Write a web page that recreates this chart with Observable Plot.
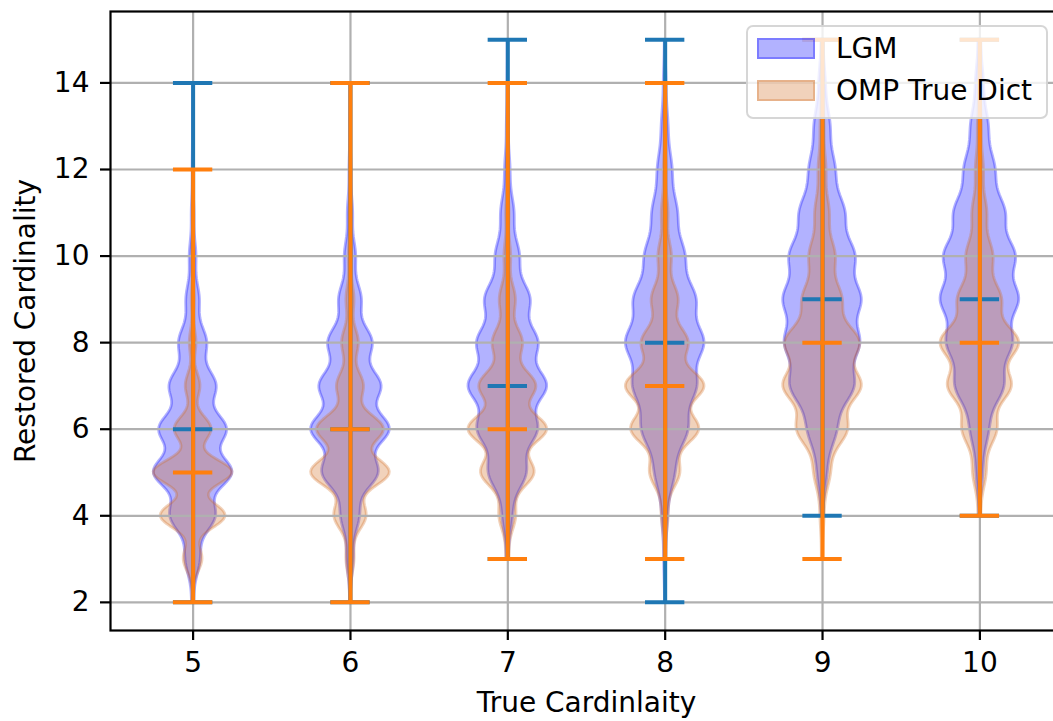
<!DOCTYPE html>
<html><head><meta charset="utf-8">
<script src="https://cdn.jsdelivr.net/npm/d3@7"></script>
<script src="https://cdn.jsdelivr.net/npm/@observablehq/plot@0.6"></script>
<style>
html,body{margin:0;padding:0;background:#fff;overflow:hidden;}
#wrap{position:relative;width:1053px;height:721px;}
.legend{position:absolute;left:746px;top:25px;width:302px;height:94px;box-sizing:border-box;background:rgba(255,255,255,0.8);border:2px solid rgba(204,204,204,0.8);border-radius:7px;font-family:"DejaVu Sans";font-size:28px;color:#000;}
.row{position:absolute;left:9px;height:21px;line-height:21px;display:flex;align-items:center;white-space:nowrap;}
.sw{width:58px;height:21px;box-sizing:border-box;margin-right:21px;}
</style></head>
<body><div id="wrap"></div>
<script>
// ---- data ----
const positions = [5, 6, 7, 8, 9, 10];
const yTicks = [2, 4, 6, 8, 10, 12, 14];
const seriesNames = ["LGM", "OMP True Dict"];

const lgmMin    = [2, 2, 3, 2, 4, 4];
const lgmMedian = [6, 6, 7, 8, 9, 9];
const lgmMax    = [14, 14, 15, 15, 15, 15];

const ompMin    = [2, 2, 3, 3, 3, 4];
const ompMedian = [5, 6, 6, 7, 8, 8];
const ompMax    = [12, 14, 14, 14, 15, 15];

// relative frequency of each integer value, from min to max
const lgmCounts = [
  [3, 22, 68, 118, 101, 70, 42, 20, 10, 4, 1.5, 0.5, 0.3],
  [1, 10, 28, 85, 119, 93, 67, 34, 17, 8, 3, 1, 0.5],
  [3, 15, 57, 90, 118, 91, 68, 36, 20, 8, 3, 1, 0.5],
  [0.5, 3, 8, 30, 70, 95, 118, 93, 60, 38, 22, 10, 4, 1],
  [2, 15, 45, 100, 115, 120, 101, 70, 40, 25, 10, 3],
  [1, 10, 28, 75, 100, 119, 109, 78, 47, 27, 12, 4]
];
const ompCounts = [
  [3, 28, 97, 118, 55, 22, 10, 4, 2, 1, 0.5],
  [1, 12, 48, 118, 100, 40, 25, 12, 5, 2, 1, 0.5, 0.3],
  [5, 25, 80, 118, 85, 45, 24, 10, 5, 2, 1, 0.5],
  [3, 10, 45, 102, 118, 70, 40, 20, 10, 4, 2, 1],
  [2, 6, 25, 78, 120, 115, 60, 40, 22, 12, 6, 3, 1],
  [4, 20, 52, 95, 118, 65, 40, 22, 12, 6, 3, 1]
];

// ---- violin construction (gaussian KDE, Scott-like bandwidth) ----
const bwFactor = 0.21;
const halfWidth = 0.25;
const N = 200;

function kde(counts, min, max) {
  const vals = counts.map((c, i) => min + i);
  const total = d3.sum(counts);
  const mean = d3.sum(counts, (c, i) => c * vals[i]) / total;
  const sd = Math.sqrt(d3.sum(counts, (c, i) => c * (vals[i] - mean) ** 2) / total);
  const bw = bwFactor * sd;
  const ys = d3.range(N).map(i => min + (max - min) * i / (N - 1));
  const dens = ys.map(y => d3.sum(counts, (c, i) => c * Math.exp(-0.5 * ((y - vals[i]) / bw) ** 2)));
  const m = d3.max(dens);
  return ys.map((y, i) => ({y, w: halfWidth * dens[i] / m}));
}
function bodies(name, counts, mins, maxs) {
  return positions.flatMap((p, k) =>
    kde(counts[k], mins[k], maxs[k]).map(d => ({series: name, key: name + p, y: d.y, x1: p - d.w, x2: p + d.w})));
}
function stats(name, mins, meds, maxs) {
  return positions.map((p, k) => ({series: name, pos: p, min: mins[k], med: meds[k], max: maxs[k]}));
}
function bars(st) {
  return st.flatMap(d => [d.max, d.min, d.med].map(v => ({y: v, x1: d.pos - 0.125, x2: d.pos + 0.125})));
}

const lgmBody = bodies(seriesNames[0], lgmCounts, lgmMin, lgmMax);
const ompBody = bodies(seriesNames[1], ompCounts, ompMin, ompMax);
const lgmStats = stats(seriesNames[0], lgmMin, lgmMedian, lgmMax);
const ompStats = stats(seriesNames[1], ompMin, ompMedian, ompMax);

const lgmFill = "blue", ompFill = "#D2691E";
const lgmLine = "#1f77b4", ompLine = "#ff7f0e";
const lw = 4;

const chart = Plot.plot({
  width: 1053, height: 721,
  marginLeft: 110, marginRight: -9, marginTop: 11, marginBottom: 91,
  style: {fontFamily: "'DejaVu Sans'", fontSize: "28px", background: "white", color: "black"},
  x: {domain: [4.475, 10.525]},
  y: {domain: [1.35, 15.65]},
  marks: [
    Plot.areaX(lgmBody, {y: "y", x1: "x1", x2: "x2", z: "key", fill: lgmFill, fillOpacity: 0.3, stroke: lgmFill, strokeOpacity: 0.3, strokeWidth: 2.8}),
    Plot.areaX(ompBody, {y: "y", x1: "x1", x2: "x2", z: "key", fill: ompFill, fillOpacity: 0.3, stroke: ompFill, strokeOpacity: 0.3, strokeWidth: 2.8}),
    Plot.gridX(positions, {stroke: "#b0b0b0", strokeOpacity: 1, strokeWidth: 2.2}),
    Plot.gridY(yTicks, {stroke: "#b0b0b0", strokeOpacity: 1, strokeWidth: 2.2}),
    Plot.ruleX(lgmStats, {x: "pos", y1: "min", y2: "max", stroke: lgmLine, strokeWidth: lw}),
    Plot.ruleY(bars(lgmStats), {y: "y", x1: "x1", x2: "x2", stroke: lgmLine, strokeWidth: lw}),
    Plot.ruleX(ompStats, {x: "pos", y1: "min", y2: "max", stroke: ompLine, strokeWidth: lw}),
    Plot.ruleY(bars(ompStats), {y: "y", x1: "x1", x2: "x2", stroke: ompLine, strokeWidth: lw}),
    Plot.frame({stroke: "black", strokeWidth: 2.2}),
    Plot.axisX(positions, {tickSize: 10, tickPadding: 12, strokeWidth: 2.2, tickFormat: d => String(d), label: "True Cardinlaity", labelAnchor: "center", labelArrow: "none", labelOffset: 81}),
    Plot.axisY(yTicks, {tickSize: 10, tickPadding: 11, strokeWidth: 2.2, tickFormat: d => String(d), label: "Restored Cardinality", labelAnchor: "center", labelArrow: "none", labelOffset: 95})
  ]
});
const wrap = document.getElementById("wrap");
wrap.appendChild(chart);

// legend
const legend = document.createElement("div");
legend.className = "legend";
[[seriesNames[0], lgmFill, 11], [seriesNames[1], ompFill, 53]].forEach(([name, col, top]) => {
  const row = document.createElement("div");
  row.className = "row";
  row.style.top = top + "px";
  const sw = document.createElement("div");
  sw.className = "sw";
  const c = d3.color(col);
  sw.style.background = `rgba(${c.r},${c.g},${c.b},0.3)`;
  sw.style.border = `2.8px solid rgba(${c.r},${c.g},${c.b},0.3)`;
  const t = document.createElement("span");
  t.textContent = name;
  row.appendChild(sw); row.appendChild(t);
  legend.appendChild(row);
});
wrap.appendChild(legend);
</script>
</body></html>
